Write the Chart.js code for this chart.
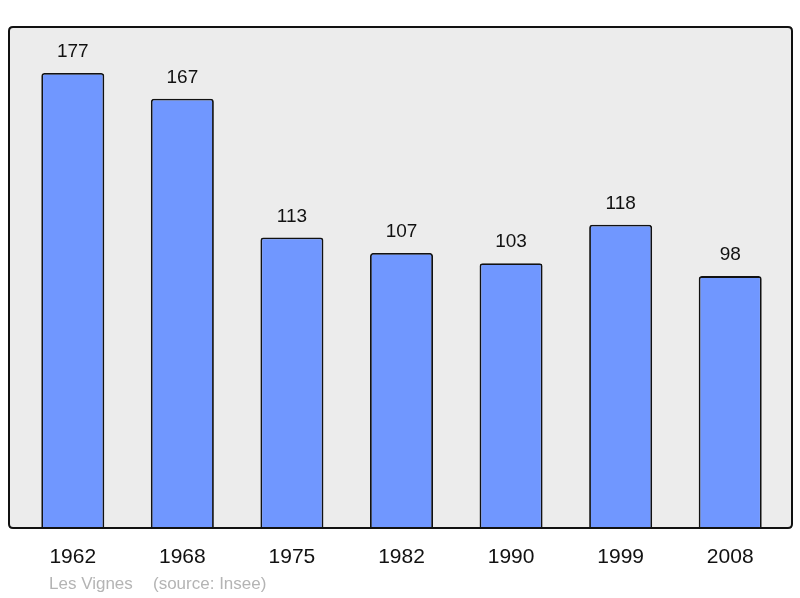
<!DOCTYPE html>
<html>
<head>
<meta charset="utf-8">
<script src="https://cdn.jsdelivr.net/npm/chart.js@4/dist/chart.umd.min.js"></script>
<style>
html,body{margin:0;padding:0;background:#fff;}
canvas{display:block;}
</style>
</head>
<body>
<canvas id="c" width="800" height="598"></canvas>
<script>
const years = ["1962","1968","1975","1982","1990","1999","2008"];
const population = [177,167,113,107,103,118,98];
const placeName = "Les Vignes";
const sourceText = "(source: Insee)";

const FONT = '"Liberation Sans", Arial, sans-serif';

function framePath(ctx) {
  const x = 9, y = 27, w = 783, h = 501, r = 4;
  ctx.beginPath();
  ctx.moveTo(x + r, y);
  ctx.lineTo(x + w - r, y);
  ctx.quadraticCurveTo(x + w, y, x + w, y + r);
  ctx.lineTo(x + w, y + h - r);
  ctx.quadraticCurveTo(x + w, y + h, x + w - r, y + h);
  ctx.lineTo(x + r, y + h);
  ctx.quadraticCurveTo(x, y + h, x, y + h - r);
  ctx.lineTo(x, y + r);
  ctx.quadraticCurveTo(x, y, x + r, y);
  ctx.closePath();
}

const framePlugin = {
  id: 'frame',
  beforeDraw(chart) {
    const ctx = chart.ctx;
    ctx.save();
    ctx.fillStyle = '#fff';
    ctx.fillRect(0, 0, chart.width, chart.height);
    framePath(ctx);
    ctx.fillStyle = '#ececec';
    ctx.fill();
    ctx.restore();
  },
  afterDatasetsDraw(chart) {
    const ctx = chart.ctx;
    ctx.save();
    framePath(ctx);
    ctx.strokeStyle = '#111';
    ctx.lineWidth = 2;
    ctx.stroke();

    // value labels
    const meta = chart.getDatasetMeta(0);
    ctx.fillStyle = '#111';
    ctx.font = '19px ' + FONT;
    ctx.textAlign = 'center';
    ctx.textBaseline = 'middle';
    meta.data.forEach((bar, i) => {
      ctx.fillText(String(population[i]), bar.x, bar.y - 21);
    });

    // category labels
    const xs = chart.scales.x;
    ctx.font = '21px ' + FONT;
    ctx.fillStyle = '#111';
    years.forEach((yr, i) => {
      ctx.fillText(yr, xs.getPixelForValue(i), 557);
    });

    // footer
    ctx.font = '17px ' + FONT;
    ctx.fillStyle = '#b4b4b4';
    ctx.textAlign = 'left';
    ctx.fillText(placeName, 49, 584);
    ctx.fillText(sourceText, 153, 584);
    ctx.restore();
  }
};

new Chart(document.getElementById('c'), {
  type: 'bar',
  data: {
    labels: years,
    datasets: [{
      data: population,
      backgroundColor: '#7097ff',
      borderColor: '#111',
      borderWidth: 1.8,
      borderRadius: 3,
      borderSkipped: 'bottom',
      barPercentage: 0.575,
      categoryPercentage: 1
    }]
  },
  options: {
    responsive: false,
    devicePixelRatio: 1,
    animation: false,
    layout: { padding: { left: 18, right: 15, top: 27, bottom: 70 } },
    plugins: { legend: { display: false }, tooltip: { enabled: false } },
    scales: {
      x: { display: false },
      y: { display: false, min: 0, max: 194.9 }
    }
  },
  plugins: [framePlugin]
});
</script>
</body>
</html>
